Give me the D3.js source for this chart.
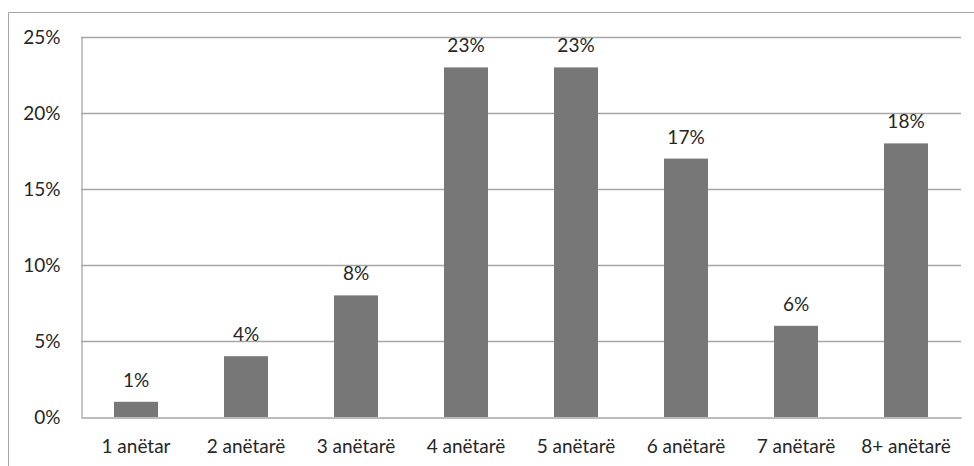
<!DOCTYPE html>
<html><head><meta charset="utf-8">
<script src="https://cdn.jsdelivr.net/npm/d3@7"></script>
<style>body{margin:0;background:#fff}svg{display:block}</style>
</head><body>
<svg id="c" width="974" height="466"></svg>
<script>
const categories = ["1 anëtar","2 anëtarë","3 anëtarë","4 anëtarë","5 anëtarë","6 anëtarë","7 anëtarë","8+ anëtarë"];
const values = [1,4,8,23,23,17,6,18];
const valueLabels = ["1%","4%","8%","23%","23%","17%","6%","18%"];
const yTicks = [0,5,10,15,20,25];
const yTickLabels = ["0%","5%","10%","15%","20%","25%"];

const svg = d3.select("#c");
const font = "Lato, 'Open Sans', sans-serif";
const m = {l:81, r:961, t:37, b:417};
// outer chart border (left and top visible)
svg.append("path").attr("d","M8.5,475V12.5H980").attr("fill","none").attr("stroke","#a6a6a6").attr("stroke-width",1);

const x = d3.scaleBand().domain(categories).range([m.l,m.r]).paddingInner(0.6).paddingOuter(0.3);
const y = d3.scaleLinear().domain([0,25]).range([m.b,m.t]);

// gridlines
svg.append("g").selectAll("line").data(yTicks.slice(1)).join("line")
  .attr("x1",m.l).attr("x2",m.r).attr("y1",d=>Math.round(y(d))+0.5).attr("y2",d=>Math.round(y(d))+0.5)
  .attr("stroke","#a6a6a6").attr("stroke-width",1.3);

// y axis
const yAxis = d3.axisLeft(y).tickValues(yTicks).tickFormat((d,i)=>yTickLabels[i]).tickSize(0).tickPadding(21);
const gy = svg.append("g").attr("transform",`translate(${m.l+0.5},0)`).call(yAxis);
gy.select(".domain").attr("stroke","#a6a6a6").attr("stroke-width",1.3);
gy.selectAll("text").attr("font-family",font).attr("font-size",19).attr("fill","#262626");

// bars
svg.append("g").selectAll("rect").data(values).join("rect")
  .attr("x",(d,i)=>x(categories[i])).attr("width",x.bandwidth())
  .attr("y",d=>y(d)).attr("height",d=>y(0)-y(d)).attr("fill","#777777");

// x axis
const xAxis = d3.axisBottom(x).tickSize(0).tickPadding(22);
const gx = svg.append("g").attr("transform",`translate(0,${m.b+0.5})`).call(xAxis);
gx.select(".domain").attr("stroke","#a6a6a6").attr("stroke-width",1.3);
gx.selectAll("text").attr("font-family",font).attr("font-size",19).attr("fill","#262626");

// value labels
svg.append("g").selectAll("text").data(values).join("text")
  .attr("x",(d,i)=>x(categories[i])+x.bandwidth()/2).attr("y",d=>y(d)-15)
  .attr("text-anchor","middle").attr("font-family",font).attr("font-size",19).attr("fill","#262626")
  .text((d,i)=>valueLabels[i]);
</script>
</body></html>
